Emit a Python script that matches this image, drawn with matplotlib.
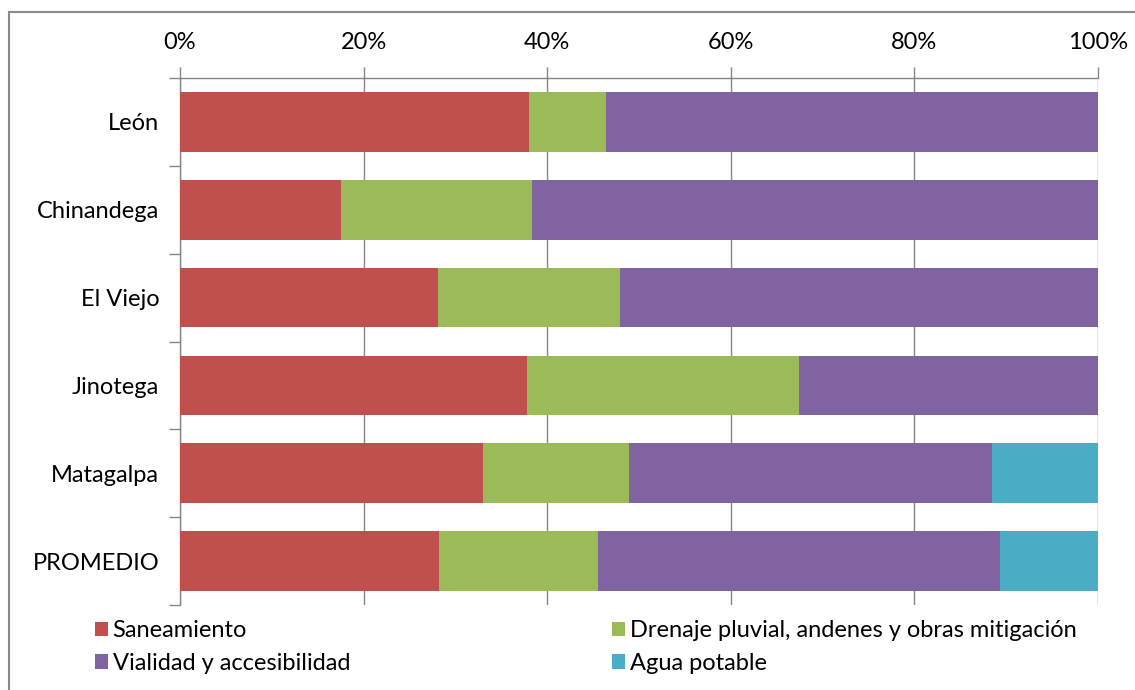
import matplotlib.pyplot as plt
from matplotlib.patches import Rectangle, Patch
import numpy as np

plt.rcParams['font.family'] = ['Lato', 'DejaVu Sans']

municipios = ['León', 'Chinandega', 'El Viejo', 'Jinotega', 'Matagalpa', 'PROMEDIO']
saneamiento = [38.0, 17.5, 28.1, 37.8, 33.0, 28.2]
drenaje = [8.4, 20.8, 19.8, 29.6, 15.9, 17.3]
vialidad = [53.6, 61.7, 52.1, 32.6, 39.5, 43.8]
agua = [0.0, 0.0, 0.0, 0.0, 11.6, 10.7]

series = [
    ('Saneamiento', saneamiento, '#C0504D'),
    ('Drenaje pluvial, andenes y obras mitigación', drenaje, '#9BBB59'),
    ('Vialidad y accesibilidad', vialidad, '#8064A2'),
    ('Agua potable', agua, '#4BACC6'),
]

fig = plt.figure(figsize=(11.35, 6.9), dpi=100)
ax = fig.add_axes([180 / 1135, 1 - 605 / 690, 918 / 1135, 527 / 690])

# marco exterior del grafico
fig.patches.append(Rectangle((9 / 1135, -0.05), 1.2, 1 - 12 / 690 + 0.05,
                             transform=fig.transFigure, fill=False,
                             edgecolor='#8a8a8a', linewidth=1.5))

y = np.arange(len(municipios))
left = np.zeros(len(municipios))
handles = []
for name, vals, color in series:
    vals = np.array(vals)
    ax.barh(y, vals, left=left, height=0.68, color=color, zorder=3)
    left += vals
    handles.append(Patch(facecolor=color, label=name))

ax.set_xlim(0, 100)
ax.set_ylim(len(municipios) - 0.5, -0.5)
ax.set_xticks([0, 20, 40, 60, 80, 100])
ax.set_xticklabels(['0%', '20%', '40%', '60%', '80%', '100%'])
ax.xaxis.tick_top()
ax.tick_params(axis='x', length=8, width=1, color='#868686', pad=10, labelsize=17)
ax.grid(axis='x', color='#868686', linewidth=1, zorder=0)

ax.set_yticks(y)
ax.set_yticklabels(municipios)
ax.set_yticks(np.arange(-0.5, len(municipios), 1), minor=True)
ax.tick_params(axis='y', which='major', length=0, pad=15, labelsize=17)
ax.tick_params(axis='y', which='minor', length=8, width=1, color='#868686')

for s in ['right', 'bottom']:
    ax.spines[s].set_visible(False)
for s in ['top', 'left']:
    ax.spines[s].set_color('#868686')
    ax.spines[s].set_linewidth(1)

order = [handles[0], handles[2], handles[1], handles[3]]
fig.legend(handles=order, ncol=2, loc='upper left',
           bbox_to_anchor=(95 / 1135, 1 - 620 / 690), frameon=False,
           fontsize=17, handlelength=0.55, handleheight=0.55,
           handletextpad=0.2, columnspacing=11.1, labelspacing=0.5,
           borderaxespad=0, borderpad=0)

fig.savefig('out.png', dpi=100)
